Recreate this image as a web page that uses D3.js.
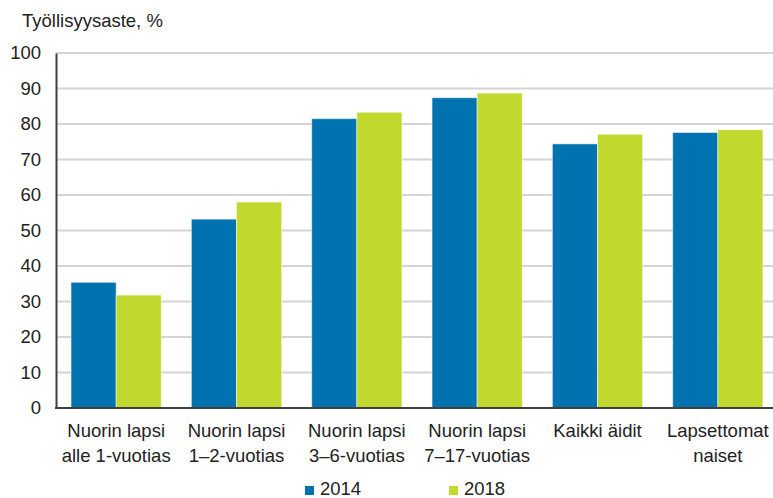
<!DOCTYPE html>
<html>
<head>
<meta charset="utf-8">
<script src="https://cdn.jsdelivr.net/npm/d3@7"></script>
<style>
  body { margin: 0; background: #fff; }
  text { font-family: "Liberation Sans", Arial, sans-serif; fill: #222; }
</style>
</head>
<body>
<div id="chart"></div>
<script>
// data
var categories = [
  ["Nuorin lapsi", "alle 1-vuotias"],
  ["Nuorin lapsi", "1\u20132-vuotias"],
  ["Nuorin lapsi", "3\u20136-vuotias"],
  ["Nuorin lapsi", "7\u201317-vuotias"],
  ["Kaikki äidit"],
  ["Lapsettomat", "naiset"]
];
var years = ["2014", "2018"];
var values2014 = [35.4, 53.2, 81.5, 87.4, 74.4, 77.6];
var values2018 = [31.8, 58.0, 83.3, 88.7, 77.1, 78.4];
var yTicks = [0, 10, 20, 30, 40, 50, 60, 70, 80, 90, 100];
var colors = ["#0072b0", "#c1d82f"];

var svgWidth = 773;
var svgHeight = 498;
var fontSize = "18.5px";

var svg = d3.select("#chart")
  .append("svg")
  .attr("width", svgWidth)
  .attr("height", svgHeight);

var plotLeft = 56, plotRight = 778, plotTop = 53, plotBottom = 408;

var xScale = d3.scaleBand()
  .domain(d3.range(categories.length))
  .range([plotLeft, plotRight])
  .paddingInner(0.25)
  .paddingOuter(0.125);

var xInner = d3.scaleBand()
  .domain(years)
  .range([0, xScale.bandwidth()]);

var yScale = d3.scaleLinear()
  .domain([0, 100])
  .range([plotBottom, plotTop]);

// gridlines
svg.append("g")
  .selectAll("line")
  .data(yTicks.filter(d => d > 0))
  .enter()
  .append("line")
  .attr("x1", plotLeft)
  .attr("x2", svgWidth)
  .attr("y1", d => yScale(d))
  .attr("y2", d => yScale(d))
  .attr("stroke", "#d4d4d4")
  .attr("stroke-width", 2);

// bars
var seriesData = [values2014, values2018];
seriesData.forEach(function (vals, s) {
  svg.append("g")
    .selectAll("rect")
    .data(vals)
    .enter()
    .append("rect")
    .attr("x", (d, i) => xScale(i) + xInner(years[s]))
    .attr("y", d => yScale(d))
    .attr("width", xInner.bandwidth())
    .attr("height", d => plotBottom - yScale(d))
    .attr("fill", colors[s])
    .attr("stroke", "rgba(255,255,255,0.5)")
    .attr("stroke-width", 1);
});

// axes
var yAxis = d3.axisLeft(yScale)
  .tickValues(yTicks)
  .tickSize(0)
  .tickPadding(15);

var yAxisG = svg.append("g")
  .attr("transform", `translate(${plotLeft},0)`)
  .call(yAxis);
yAxisG.select(".domain")
  .attr("stroke", "#404040")
  .attr("stroke-width", 2);
yAxisG.selectAll("text")
  .attr("font-size", fontSize)
  .attr("fill", "#222")
  .attr("font-family", "Liberation Sans, Arial, sans-serif");

svg.append("line")
  .attr("x1", plotLeft - 1)
  .attr("x2", svgWidth)
  .attr("y1", plotBottom)
  .attr("y2", plotBottom)
  .attr("stroke", "#404040")
  .attr("stroke-width", 2);

// category labels
var catLabels = svg.append("g")
  .selectAll("text")
  .data(categories)
  .enter()
  .append("text")
  .attr("text-anchor", "middle")
  .attr("font-size", fontSize)
  .attr("x", (d, i) => xScale(i) + xScale.bandwidth() / 2)
  .attr("y", 437);

catLabels.selectAll("tspan")
  .data(d => d)
  .enter()
  .append("tspan")
  .attr("x", function () { return d3.select(this.parentNode).attr("x"); })
  .attr("dy", (d, i) => i === 0 ? 0 : 24.5)
  .text(d => d);

// title
svg.append("text")
  .attr("x", 22)
  .attr("y", 27)
  .attr("font-size", fontSize)
  .text("Työllisyysaste, %");

// legend
var legendX = [305, 449];
years.forEach(function (y, i) {
  svg.append("rect")
    .attr("x", legendX[i])
    .attr("y", 486)
    .attr("width", 9)
    .attr("height", 9)
    .attr("fill", colors[i]);
  svg.append("text")
    .attr("x", legendX[i] + 15)
    .attr("y", 495)
    .attr("font-size", fontSize)
    .text(y);
});
</script>
</body>
</html>
